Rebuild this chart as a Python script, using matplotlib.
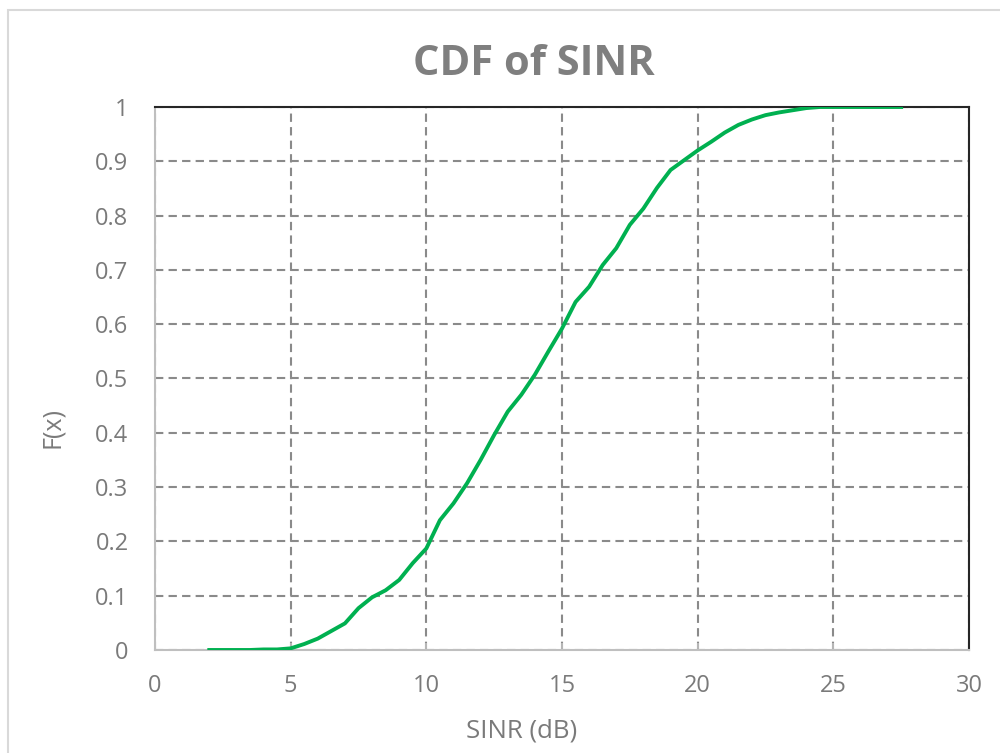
import matplotlib
matplotlib.use("Agg")
import matplotlib.pyplot as plt
from matplotlib.patches import Rectangle

sinr_db = [2, 2.5, 3, 3.5, 4, 4.5, 5, 5.5, 6, 6.5, 7, 7.5, 8, 8.5, 9, 9.5, 10, 10.5,
           11, 11.5, 12, 12.5, 13, 13.5, 14, 14.5, 15, 15.5, 16, 16.5, 17, 17.5, 18,
           18.5, 19, 19.5, 20, 20.5, 21, 21.5, 22, 22.5, 23, 23.5, 24, 24.5, 25, 25.5,
           26, 26.5, 27, 27.5]
cdf = [0, 0, 0, 0, 0.001, 0.001, 0.003, 0.011, 0.021, 0.035, 0.049, 0.077, 0.097,
       0.11, 0.129, 0.16, 0.187, 0.239, 0.27, 0.307, 0.35, 0.396, 0.439, 0.47, 0.507,
       0.55, 0.592, 0.641, 0.669, 0.709, 0.74, 0.783, 0.813, 0.851, 0.884, 0.902, 0.92,
       0.936, 0.953, 0.967, 0.977, 0.985, 0.990, 0.994, 0.998, 1, 1, 1, 1, 1, 1, 1]
x_ticks = [0, 5, 10, 15, 20, 25, 30]
y_ticks = [0, 0.1, 0.2, 0.3, 0.4, 0.5, 0.6, 0.7, 0.8, 0.9, 1]
y_tick_labels = ["0", "0.1", "0.2", "0.3", "0.4", "0.5", "0.6", "0.7", "0.8", "0.9", "1"]

plt.rcParams['font.family'] = ['Open Sans', 'DejaVu Sans']
txt = '#7A7A7A'

fig = plt.figure(figsize=(10, 7.53), dpi=100)
fig.patches.append(Rectangle((0.008, -0.02), 1.05, 1.007, transform=fig.transFigure,
                             fill=False, edgecolor='#D9D9D9', linewidth=1.5))
ax = fig.add_axes([0.155, 0.1368, 0.814, 0.7211])

ax.plot(sinr_db, cdf, color='#00B050', linewidth=2.8, zorder=3)

ax.set_xlim(0, 30)
ax.set_ylim(0, 1)
ax.set_xticks(x_ticks)
ax.set_yticks(y_ticks)
ax.set_yticklabels(y_tick_labels)
ax.grid(True, color='#8A8A8A', linestyle=(0, (4, 2.5)), linewidth=1.5)
ax.set_axisbelow(True)

for s in ['top', 'right']:
    ax.spines[s].set_color('#262626')
    ax.spines[s].set_linewidth(1.5)
for s in ['left', 'bottom']:
    ax.spines[s].set_color('#BFBFBF')
    ax.spines[s].set_linewidth(1.5)

ax.tick_params(axis='x', direction='in', length=5, width=1.2, color='#BFBFBF',
               labelsize=17, labelcolor=txt, pad=17)
ax.tick_params(axis='y', length=0, labelsize=17, labelcolor=txt, pad=19)

ax.set_xlabel('SINR (dB)', fontsize=18.5, color=txt)
ax.xaxis.set_label_coords(0.451, -0.127)
ax.set_ylabel('F(x)', fontsize=18, color=txt)
ax.yaxis.set_label_coords(-0.11, 0.41)
fig.text(0.534, 0.914, 'CDF of SINR', ha='center', va='center', fontsize=30,
         fontweight='bold', color='#7F7F7F')

fig.savefig('out.png', dpi=100, facecolor='white')
